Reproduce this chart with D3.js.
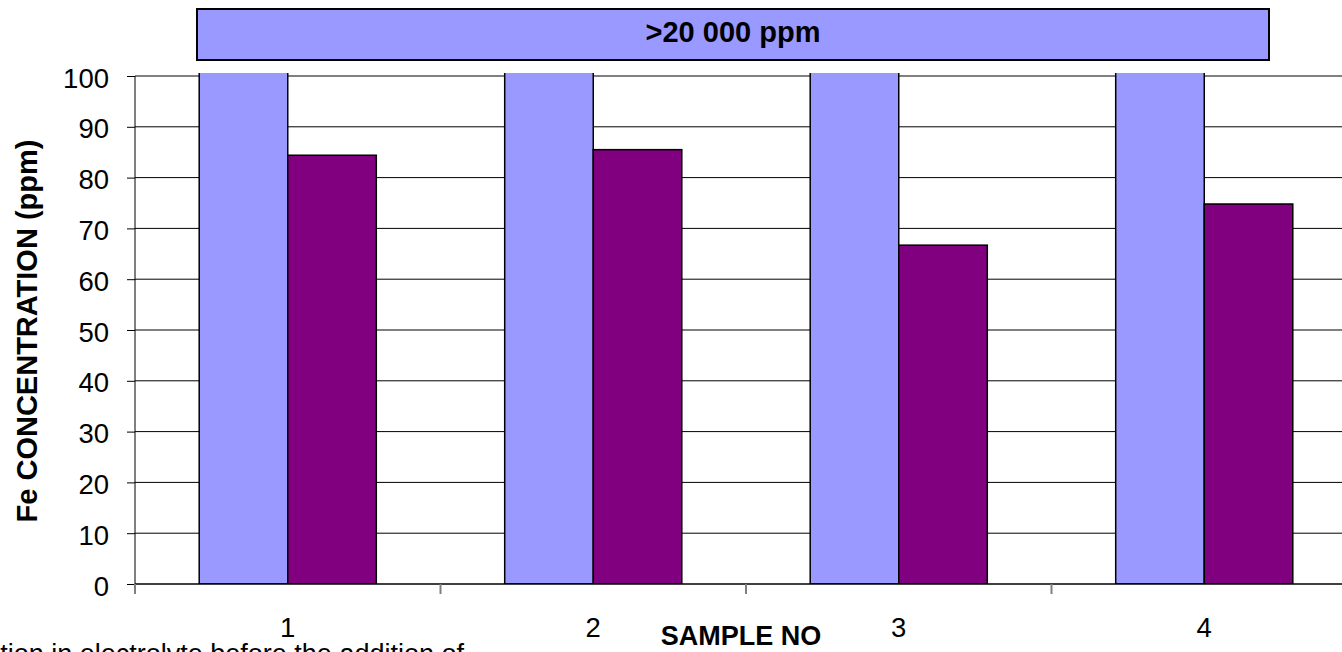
<!DOCTYPE html>
<html>
<head>
<meta charset="utf-8">
<script src="https://cdn.jsdelivr.net/npm/d3@7"></script>
<style>
  body { margin: 0; background: #fff; }
  svg { display: block; font-family: "Liberation Sans", Arial, sans-serif; }
</style>
</head>
<body>
<div id="chart"></div>
<script>
// data
const samples = ["1", "2", "3", "4"];
const before = [20000, 20000, 20000, 20000]; // off the scale, ">20 000 ppm"
const after = [84.4, 85.5, 66.7, 74.8];
const yTicks = [0, 10, 20, 30, 40, 50, 60, 70, 80, 90, 100];
const bannerText = ">20 000 ppm";
const xTitle = "SAMPLE NO";
const yTitle = "Fe CONCENTRATION (ppm)";
const legendCut = "tion in electrolyte before the addition of";

const width = 1342, height = 652;
const plotLeft = 135, plotTop = 76, plotBottom = 584;
const bandW = 305.5;

const svg = d3.select("#chart").append("svg")
    .attr("width", width)
    .attr("height", height);

const x0 = d3.scaleBand()
    .domain(samples)
    .range([plotLeft, plotLeft + bandW * samples.length]);

// two bars per sample, gap between groups ~145% of a bar
const barW = x0.bandwidth() / 3.45;
const gap = (x0.bandwidth() - 2 * barW) / 2;
const x1 = d3.scaleBand()
    .domain(["before", "after"])
    .range([gap, gap + barW * 2]);

const y = d3.scaleLinear()
    .domain([0, 100])
    .range([plotBottom, plotTop]);

svg.append("defs").append("clipPath")
    .attr("id", "plot")
  .append("rect")
    .attr("x", plotLeft)
    .attr("y", y(100) - 3)
    .attr("width", width - plotLeft)
    .attr("height", plotBottom - y(100) + 3);

// gridlines
svg.append("g")
  .selectAll("line")
  .data(yTicks.filter(d => d > 0))
  .join("line")
    .attr("x1", plotLeft)
    .attr("x2", width)
    .attr("y1", d => y(d))
    .attr("y2", d => y(d))
    .attr("stroke", d => d === 100 ? "#808080" : "#000")
    .attr("stroke-width", d => d === 100 ? 2 : 1);

// bars
const rows = samples.map((s, i) => ({ s, before: before[i], after: after[i] }));

const groups = svg.append("g")
    .attr("clip-path", "url(#plot)")
  .selectAll("g")
  .data(rows)
  .join("g")
    .attr("transform", d => `translate(${x0(d.s)},0)`);

groups.selectAll("rect")
  .data(d => [{ k: "before", v: d.before }, { k: "after", v: d.after }])
  .join("rect")
    .attr("x", d => x1(d.k))
    .attr("width", x1.bandwidth())
    .attr("y", d => y(Math.min(d.v, 101)))
    .attr("height", d => y(0) - y(Math.min(d.v, 101)))
    .attr("fill", d => d.k === "before" ? "#9999ff" : "#800080")
    .attr("stroke", "#000")
    .attr("stroke-width", 1.5);

// axes
const yAxis = svg.append("g")
    .attr("transform", `translate(${plotLeft},0)`)
    .call(d3.axisLeft(y).tickValues(yTicks).tickSize(8).tickPadding(18));
yAxis.select(".domain").attr("stroke", "#000").attr("d", `M0,${plotBottom}V${plotTop}`);
yAxis.selectAll("line").attr("stroke", "#000");
yAxis.selectAll("text")
    .attr("font-size", 27.5)
    .attr("dy", "0.4em")
    .attr("fill", "#000")
    .attr("font-family", "Liberation Sans, Arial, sans-serif");

const xAxis = svg.append("g")
    .attr("transform", `translate(0,${plotBottom})`);
xAxis.append("line")
    .attr("x1", plotLeft)
    .attr("x2", width)
    .attr("stroke", "#000")
    .attr("stroke-width", 1.5);
xAxis.selectAll(".tk")
  .data(samples.concat(["end"]))
  .join("line")
    .attr("class", "tk")
    .attr("x1", (d, i) => plotLeft + bandW * i)
    .attr("x2", (d, i) => plotLeft + bandW * i)
    .attr("y1", 0)
    .attr("y2", 10)
    .attr("stroke", "#808080")
    .attr("stroke-width", 2);
xAxis.selectAll(".lbl")
  .data(samples)
  .join("text")
    .attr("class", "lbl")
    .attr("x", d => x0(d) + x0.bandwidth() / 2)
    .attr("y", 53)
    .attr("text-anchor", "middle")
    .attr("font-size", 27.5)
    .text(d => d);

// titles
svg.append("text")
    .attr("x", 741)
    .attr("y", 645)
    .attr("text-anchor", "middle")
    .attr("font-size", 27)
    .attr("font-weight", "bold")
    .text(xTitle);

svg.append("text")
    .attr("transform", "translate(37,331) rotate(-90)")
    .attr("text-anchor", "middle")
    .attr("font-size", 29)
    .attr("font-weight", "bold")
    .text(yTitle);

// banner for the off-scale series
svg.append("rect")
    .attr("x", 197)
    .attr("y", 9)
    .attr("width", 1072)
    .attr("height", 51)
    .attr("fill", "#9999ff")
    .attr("stroke", "#000")
    .attr("stroke-width", 2);
svg.append("text")
    .attr("x", 733)
    .attr("y", 42)
    .attr("text-anchor", "middle")
    .attr("font-size", 29)
    .attr("font-weight", "bold")
    .text(bannerText);

// legend, cut off by the frame as in the original
svg.append("text")
    .attr("x", 464)
    .attr("y", 663)
    .attr("text-anchor", "end")
    .attr("font-size", 27)
    .text(legendCut);
</script>
</body>
</html>
